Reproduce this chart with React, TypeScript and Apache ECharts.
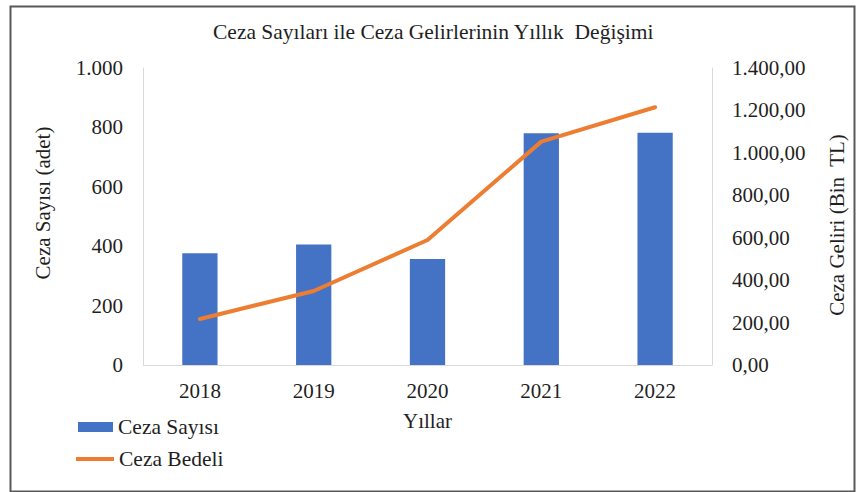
import React, { useEffect, useRef } from "react";
import * as echarts from "echarts";

const categories = ["2018", "2019", "2020", "2021", "2022"];
const cezaSayisi = [376, 406, 357, 780, 782];
const cezaBedeli = [217, 349, 589, 1053, 1215];

const FONT = "'Liberation Serif', 'Times New Roman', serif";
const TXT = "#1f1f1f";

function thousands(v: number): string {
  const s = Math.round(v).toString();
  return s.replace(/\B(?=(\d{3})+(?!\d))/g, ".");
}

export default function App() {
  const ref = useRef<HTMLDivElement>(null);
  useEffect(() => {
    if (!ref.current) return;
    const chart = echarts.init(ref.current, null, { renderer: "svg" });
    chart.setOption({
      animation: false,
      backgroundColor: "#ffffff",
      title: {
        text: "Ceza Sayıları ile Ceza Gelirlerinin Yıllık  Değişimi",
        left: 213,
        top: 21,
        padding: 0,
        textStyle: { fontFamily: FONT, fontSize: 21.5, fontWeight: "normal", color: TXT },
      },
      grid: { left: 143, right: 144, top: 68, bottom: 127, containLabel: false, outerBoundsMode: "none" },
      legend: [
        {
          orient: "vertical",
          left: 78,
          top: 416,
          padding: 0,
          itemWidth: 35,
          itemHeight: 10,
          data: [{ name: "Ceza Sayısı", icon: "rect", itemStyle: { color: "#4472C4" } }],
          textStyle: { fontFamily: FONT, fontSize: 21.5, color: TXT },
        },
        {
          orient: "vertical",
          left: 76,
          top: 448,
          padding: 0,
          itemWidth: 38,
          itemHeight: 4,
          data: [{ name: "Ceza Bedeli", icon: "rect", itemStyle: { color: "#ED7D31" } }],
          textStyle: { fontFamily: FONT, fontSize: 21.5, color: TXT },
        },
      ],
      xAxis: {
        type: "category",
        data: categories,
        name: "Yıllar",
        nameLocation: "middle",
        nameGap: 45,
        nameTextStyle: { fontFamily: FONT, fontSize: 21, color: TXT },
        axisLine: { show: true, lineStyle: { color: "#d9d9d9", width: 1 } },
        axisTick: { show: false },
        axisLabel: { fontFamily: FONT, fontSize: 21, color: TXT, margin: 15 },
      },
      yAxis: [
        {
          type: "value",
          min: 0,
          max: 1000,
          interval: 200,
          position: "left",
          axisLine: { show: true, lineStyle: { color: "#d9d9d9", width: 1 } },
          axisTick: { show: false },
          splitLine: { show: false },
          axisLabel: {
            fontFamily: FONT,
            fontSize: 21,
            color: TXT,
            margin: 20,
            formatter: (v: number) => thousands(v),
          },
        },
        {
          type: "value",
          min: 0,
          max: 1400,
          interval: 200,
          position: "right",
          axisLine: { show: true, lineStyle: { color: "#d9d9d9", width: 1 } },
          axisTick: { show: false },
          splitLine: { show: false },
          axisLabel: {
            fontFamily: FONT,
            fontSize: 21,
            color: TXT,
            margin: 20,
            formatter: (v: number) => thousands(v) + ",00",
          },
        },
      ],
      series: [
        {
          name: "Ceza Sayısı",
          type: "bar",
          yAxisIndex: 0,
          data: cezaSayisi,
          barWidth: "31%",
          itemStyle: { color: "#4472C4" },
        },
        {
          name: "Ceza Bedeli",
          type: "line",
          yAxisIndex: 1,
          data: cezaBedeli,
          symbol: "none",
          lineStyle: { color: "#ED7D31", width: 4, cap: "round", join: "round" },
          itemStyle: { color: "#ED7D31" },
        },
      ],
      graphic: [
        {
          type: "rect",
          left: 8,
          top: 4,
          shape: { x: 0, y: 0, width: 844, height: 485 },
          style: { fill: "none", stroke: "#595959", lineWidth: 2 },
          silent: true,
        },
        {
          type: "text",
          x: 43,
          y: 203,
          rotation: Math.PI / 2,
          style: {
            text: "Ceza Sayısı (adet)",
            fontFamily: FONT,
            fontSize: 21,
            fill: TXT,
            align: "center",
            verticalAlign: "middle",
          },
        },
        {
          type: "text",
          x: 837,
          y: 225,
          rotation: Math.PI / 2,
          style: {
            text: "Ceza Geliri (Bin  TL)",
            fontFamily: FONT,
            fontSize: 21,
            fill: TXT,
            align: "center",
            verticalAlign: "middle",
          },
        },
      ],
    });
    return () => chart.dispose();
  }, []);
  return (
    <div
      ref={ref}
      style={{ position: "absolute", left: 0, top: 0, width: 856, height: 492 }}
    />
  );
}
